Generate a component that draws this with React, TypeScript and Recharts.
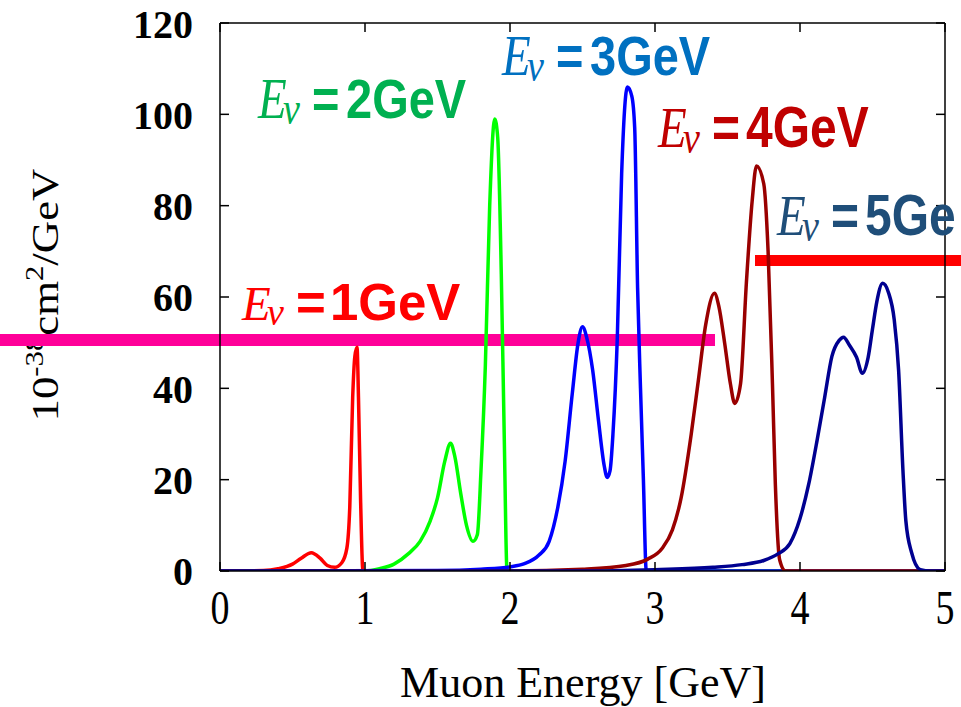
import React from "react";
import { LineChart, Line, XAxis, YAxis } from "recharts";

const xTicks = [0, 1, 2, 3, 4, 5];
const yTicks = [0, 20, 40, 60, 80, 100, 120];

// E_nu = 1 GeV
const e1X = [0, 0.3, 0.4, 0.5, 0.56, 0.63, 0.69, 0.74, 0.79, 0.84, 0.875, 0.895, 0.915, 0.93, 0.945, 0.955, 0.97, 0.986, 1.0, 5];
const e1Y = [0, 0.1, 0.5, 1.5, 2.8, 4, 2.8, 1.2, 0.8, 1.8, 5, 14, 38, 47, 49, 38, 15, 0, 0, 0];

// E_nu = 2 GeV
const e2X = [0, 1.0, 1.1, 1.2, 1.3, 1.38, 1.45, 1.5, 1.55, 1.59, 1.62, 1.66, 1.7, 1.745, 1.775, 1.8, 1.83, 1.86, 1.895, 1.915, 1.94, 1.96, 1.98, 2.0, 5];
const e2Y = [0, 0, 0.5, 1.5, 3.8, 6.5, 11, 16, 24, 28, 25, 17, 10, 6.5, 8, 22, 45, 80, 99, 95, 65, 30, 0, 0, 0];

// E_nu = 3 GeV
const e3X = [0, 1.5, 1.8, 2.0, 2.1, 2.2, 2.27, 2.33, 2.38, 2.43, 2.47, 2.5, 2.53, 2.57, 2.61, 2.65, 2.67, 2.69, 2.71, 2.74, 2.77, 2.81, 2.84, 2.86, 2.88, 2.9, 2.92, 2.94, 3.0, 5];
const e3Y = [0, 0.1, 0.4, 0.9, 1.6, 3.5, 6.5, 14, 24, 39, 50, 53.5, 51, 44, 33, 23, 20.5, 22, 30, 51, 87, 106, 104, 97, 62, 40, 20, 0, 0, 0];

// E_nu = 4 GeV
const e4X = [0, 2.0, 2.5, 2.8, 2.95, 3.05, 3.12, 3.18, 3.25, 3.3, 3.35, 3.41, 3.44, 3.48, 3.52, 3.55, 3.59, 3.63, 3.67, 3.7, 3.75, 3.78, 3.81, 3.83, 3.86, 3.9, 5];
const e4Y = [0, 0, 0.4, 1.2, 2.6, 5, 9, 16, 30, 42, 54, 60.8, 58, 50, 41, 36.7, 41, 63, 81, 88.7, 84.8, 70, 41, 19, 2.4, 0, 0];

// E_nu = 5 GeV
const e5X = [0, 2.5, 3.0, 3.4, 3.6, 3.75, 3.85, 3.93, 4.0, 4.06, 4.12, 4.17, 4.22, 4.27, 4.3, 4.34, 4.39, 4.43, 4.47, 4.5, 4.53, 4.57, 4.61, 4.65, 4.68, 4.71, 4.73, 4.77, 4.83, 4.9, 5];
const e5Y = [0, 0, 0.3, 0.8, 1.4, 2.3, 3.8, 6, 11.5, 19, 29, 38, 47, 50.5, 51.2, 49.5, 46.8, 43.3, 46.8, 53, 59, 63, 61, 55, 44, 22, 11, 4, 0.3, 0, 0];

const series = [
  { key: "e1", color: "#ff0000", xs: e1X, ys: e1Y },
  { key: "e2", color: "#00ff00", xs: e2X, ys: e2Y },
  { key: "e3", color: "#0000ff", xs: e3X, ys: e3Y },
  { key: "e4", color: "#990000", xs: e4X, ys: e4Y },
  { key: "e5", color: "#000090", xs: e5X, ys: e5Y },
];

// label text per curve
const labelNums = ["1GeV", "2GeV", "3GeV", "4GeV", "5Ge"];
const labelColors = ["#ff0000", "#00b050", "#0070c0", "#c00000", "#1f4e79"];

const toPoints = (xs: number[], ys: number[]) => xs.map((x, i) => ({ x, y: ys[i] }));

const SERIF = "'Liberation Serif', 'Times New Roman', serif";
const SANS = "'Liberation Sans', Arial, sans-serif";

// where each "E_nu = nGeV" label sits (left of E, baseline)
const labelPos = [
  { x: 242, y: 320, fs: 51, sy: 1.02 },
  { x: 258, y: 118, fs: 47, sy: 1.2 },
  { x: 502, y: 75, fs: 47, sy: 1.2 },
  { x: 658, y: 147, fs: 48, sy: 1.2 },
  { x: 777, y: 235, fs: 48, sy: 1.2 },
];

// one text element per label, pieces placed with tspans
const EnuLabel = ({ i }: { i: number }) => {
  const p = labelPos[i];
  const c = labelColors[i];
  return (
    <g transform={`translate(${p.x},${p.y}) scale(1,${p.sy})`}>
      <text x={0} y={0} fill={c}>
        <tspan x={0} y={0} fontFamily={SERIF} fontStyle="italic" fontSize={47}>E</tspan>
        <tspan x={25} y={5} fontFamily={SERIF} fontStyle="italic" fontSize={38}>ν</tspan>
        <tspan x={54} y={0} fontFamily={SANS} fontWeight="bold" fontSize={p.fs}>=</tspan>
        <tspan x={88} y={0} fontFamily={SANS} fontWeight="bold" fontSize={p.fs}>{labelNums[i]}</tspan>
      </text>
    </g>
  );
};

const XTick = (props: any) => {
  const { x, y, payload } = props;
  return (
    <g transform={`translate(${x},${y}) scale(1,1.3)`}>
      <text x={0} y={0} dy="0.71em" textAnchor="middle" fontFamily={SERIF} fontSize={38} fill="#000">
        {payload.value}
      </text>
    </g>
  );
};

const App = () => {
  return (
    <div style={{ position: "absolute", left: 0, top: 0, width: 961, height: 707, background: "#fff", overflow: "hidden" }}>
      {/* under layer: y title and highlight bars */}
      <svg width={961} height={707} style={{ position: "absolute", left: 0, top: 0 }}>
        <text
          transform="translate(58,295) scale(1,1.18) rotate(-90)"
          textAnchor="middle"
          fontFamily={SERIF}
          fontSize={38}
          fill="#000"
        >
          10<tspan fontSize={26} dy={-15}>-38</tspan>
          <tspan dy={15}>cm</tspan>
          <tspan fontSize={26} dy={-15}>2</tspan>
          <tspan dy={15}>/GeV</tspan>
        </text>
        <rect x={0} y={334} width={715} height={12} fill="#ff0099" />
        <rect x={755} y={255} width={206} height={11} fill="#ff0000" />
        <text x={583} y={697} textAnchor="middle" fontFamily={SERIF} fontSize={44} fill="#000">
          Muon Energy [GeV]
        </text>
      </svg>

      <div style={{ position: "absolute", left: 0, top: 0 }}>
        <LineChart width={961} height={707} margin={{ top: 22, right: 15, bottom: 76, left: 140 }}>
          <XAxis
            xAxisId="b"
            type="number"
            dataKey="x"
            domain={[0, 5]}
            ticks={xTicks}
            allowDataOverflow
            height={60}
            tickSize={-9}
            tickMargin={27}
            stroke="#000"
            strokeWidth={1.5}
            tick={<XTick />}
          />
          <XAxis
            xAxisId="t"
            orientation="top"
            type="number"
            dataKey="x"
            domain={[0, 5]}
            ticks={xTicks}
            allowDataOverflow
            height={1}
            tickSize={-9}
            stroke="#000"
            strokeWidth={1.5}
            tick={() => <g />}
          />
          <YAxis
            yAxisId="l"
            type="number"
            domain={[0, 120]}
            ticks={yTicks}
            allowDataOverflow
            width={80}
            tickSize={-9}
            tickMargin={36}
            stroke="#000"
            strokeWidth={1.5}
            tick={{ fill: "#000", fontSize: 40, fontFamily: SERIF, fontWeight: "bold" }}
          />
          <YAxis
            yAxisId="r"
            orientation="right"
            type="number"
            domain={[0, 120]}
            ticks={yTicks}
            allowDataOverflow
            width={1}
            tickSize={-9}
            stroke="#000"
            strokeWidth={1.5}
            tick={() => <g />}
          />
          {series.map((s) => (
            <Line
              key={s.key}
              xAxisId="b"
              yAxisId="l"
              data={toPoints(s.xs, s.ys)}
              dataKey="y"
              type="monotone"
              stroke={s.color}
              strokeWidth={3.5}
              dot={false}
              isAnimationActive={false}
            />
          ))}
        </LineChart>
      </div>

      {/* curve labels on top */}
      <svg width={961} height={707} style={{ position: "absolute", left: 0, top: 0, pointerEvents: "none" }}>
        {labelNums.map((_, i) => (
          <EnuLabel key={i} i={i} />
        ))}
      </svg>
    </div>
  );
};

export default App;
